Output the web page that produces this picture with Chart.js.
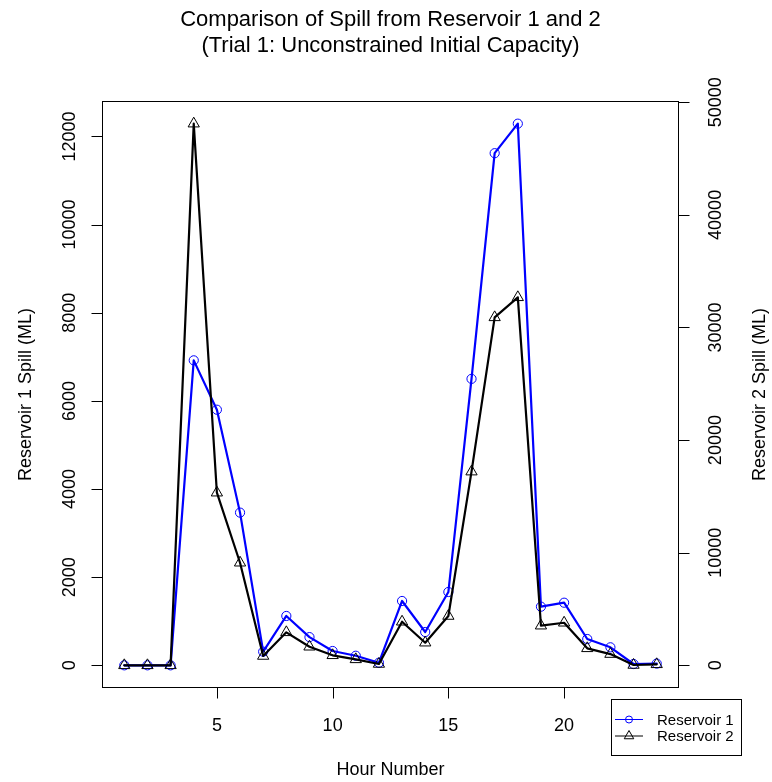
<!DOCTYPE html>
<html>
<head>
<meta charset="utf-8">
<script src="https://cdn.jsdelivr.net/npm/chart.js@4.4.0/dist/chart.umd.min.js"></script>
<style>
html,body{margin:0;padding:0;background:#fff;}
#wrap{width:772px;height:782px;}
</style>
</head>
<body>
<div id="wrap"><canvas id="c" width="772" height="782"></canvas></div>
<script>
const hours = [1,2,3,4,5,6,7,8,9,10,11,12,13,14,15,16,17,18,19,20,21,22,23,24];
const res1 = [0,0,0,6920,5800,3465,310,1120,640,325,218,59,1460,756,1664,6500,11620,12290,1331,1421,597,409,30,40];
const res2 = [0,0,0,48100,15330,9110,830,2930,1650,890,530,120,3870,2010,4380,17200,30900,32680,3520,3780,1510,1000,30,90];
const xTicks = [5,10,15,20];
const y1Ticks = [0,2000,4000,6000,8000,10000,12000];
const y2Ticks = [0,10000,20000,30000,40000,50000];
const titleLines = ['Comparison of Spill from Reservoir 1 and 2','(Trial 1: Unconstrained Initial Capacity)'];
const xLabel = 'Hour Number';
const y1Label = 'Reservoir 1 Spill (ML)';
const y2Label = 'Reservoir 2 Spill (ML)';
const seriesNames = ['Reservoir 1','Reservoir 2'];

const FONT = '"Liberation Sans", Arial, Helvetica, sans-serif';

function ext(arr){const lo=Math.min(...arr),hi=Math.max(...arr),d=(hi-lo)*0.04;return [lo-d,hi+d];}
const xr = ext(hours), r1 = ext(res1), r2 = ext(res2);

const rAxes = {
  id:'rAxes',
  afterDraw(chart){
    const ctx = chart.ctx, a = chart.chartArea;
    const sx = chart.scales.x, sy = chart.scales.y, sy2 = chart.scales.y2;
    ctx.save();
    ctx.strokeStyle = '#000'; ctx.fillStyle = '#000'; ctx.lineWidth = 1;
    // box
    ctx.strokeRect(Math.round(a.left)-0.5, Math.round(a.top)-0.5, Math.round(a.right-a.left)+1, Math.round(a.bottom-a.top)+1);
    const tl = 11;
    // x axis
    ctx.font = '18px ' + FONT;
    ctx.textAlign = 'center'; ctx.textBaseline = 'alphabetic';
    const yb = Math.round(a.bottom)+0.5;
    ctx.beginPath();
    ctx.moveTo(sx.getPixelForValue(xTicks[0]), yb); ctx.lineTo(sx.getPixelForValue(xTicks[xTicks.length-1]), yb);
    xTicks.forEach(t=>{const px=Math.round(sx.getPixelForValue(t))+0.5; ctx.moveTo(px,yb); ctx.lineTo(px,yb+tl);});
    ctx.stroke();
    xTicks.forEach(t=>{ctx.fillText(String(t), sx.getPixelForValue(t), a.bottom+44);});
    // left axis
    const xl = Math.round(a.left)-0.5;
    ctx.beginPath();
    ctx.moveTo(xl, sy.getPixelForValue(y1Ticks[0])); ctx.lineTo(xl, sy.getPixelForValue(y1Ticks[y1Ticks.length-1]));
    y1Ticks.forEach(t=>{const py=Math.round(sy.getPixelForValue(t))+0.5; ctx.moveTo(xl,py); ctx.lineTo(xl-tl,py);});
    ctx.stroke();
    y1Ticks.forEach(t=>{
      ctx.save(); ctx.translate(a.left-28, sy.getPixelForValue(t)); ctx.rotate(-Math.PI/2);
      ctx.fillText(String(t),0,0); ctx.restore();
    });
    // right axis
    const xr2 = Math.round(a.right)+0.5;
    ctx.beginPath();
    ctx.moveTo(xr2, sy2.getPixelForValue(y2Ticks[0])); ctx.lineTo(xr2, sy2.getPixelForValue(y2Ticks[y2Ticks.length-1]));
    y2Ticks.forEach(t=>{const py=Math.round(sy2.getPixelForValue(t))+0.5; ctx.moveTo(xr2,py); ctx.lineTo(xr2+tl,py);});
    ctx.stroke();
    y2Ticks.forEach(t=>{
      ctx.save(); ctx.translate(a.right+43, sy2.getPixelForValue(t)); ctx.rotate(-Math.PI/2);
      ctx.fillText(String(t),0,0); ctx.restore();
    });
    // axis labels
    const cx = (a.left+a.right)/2, cy = (a.top+a.bottom)/2;
    ctx.fillText(xLabel, cx, a.bottom+88);
    ctx.save(); ctx.translate(a.left-72, cy); ctx.rotate(-Math.PI/2); ctx.fillText(y1Label,0,0); ctx.restore();
    ctx.save(); ctx.translate(a.right+87, cy); ctx.rotate(-Math.PI/2); ctx.fillText(y2Label,0,0); ctx.restore();
    // title
    ctx.font = '22px ' + FONT;
    ctx.fillText(titleLines[0], cx, 26);
    ctx.fillText(titleLines[1], cx, 52);
    // legend
    const lx0 = 611, ly0 = 699, lw = 130, lh = 56;
    ctx.strokeRect(lx0+0.5, ly0+0.5, lw, lh);
    const rows = [719.5, 736];
    const cols = ['#0000FF','#000000'];
    ctx.font = '15px ' + FONT; ctx.textAlign = 'left'; ctx.textBaseline = 'middle';
    rows.forEach((ry,i)=>{
      ctx.strokeStyle = cols[i]; ctx.lineWidth = 1;
      ctx.beginPath(); ctx.moveTo(615, ry); ctx.lineTo(643, ry); ctx.stroke();
      ctx.beginPath();
      if(i===0){ ctx.arc(629, ry, 3.5, 0, Math.PI*2); }
      else { const r=5.5; for(let k=0;k<3;k++){const ang=k*2*Math.PI/3; const px=629+Math.sin(ang)*r, py=ry-Math.cos(ang)*r; if(k===0)ctx.moveTo(px,py); else ctx.lineTo(px,py);} ctx.closePath(); }
      ctx.stroke();
      ctx.fillStyle = '#000';
      ctx.fillText(seriesNames[i], 657, ry+1);
    });
    ctx.restore();
  }
};

new Chart(document.getElementById('c'), {
  type: 'line',
  data: {
    datasets: [
      {label: seriesNames[0], data: hours.map((h,i)=>({x:h,y:res1[i]})), yAxisID:'y',
       borderColor:'#0000FF', borderWidth:2.2, borderJoinStyle:'round', borderCapStyle:'round',
       pointStyle:'circle', pointRadius:4.6, pointBorderWidth:1, pointBorderColor:'#0000FF',
       pointBackgroundColor:'rgba(0,0,0,0)', tension:0, order:1},
      {label: seriesNames[1], data: hours.map((h,i)=>({x:h,y:res2[i]})), yAxisID:'y2',
       borderColor:'#000000', borderWidth:2.2, borderJoinStyle:'round', borderCapStyle:'round',
       pointStyle:'triangle', pointRadius:6.5, pointBorderWidth:1, pointBorderColor:'#000000',
       pointBackgroundColor:'rgba(0,0,0,0)', tension:0, order:0}
    ]
  },
  options: {
    responsive:false, animation:false, devicePixelRatio:1,
    layout:{padding:{left:103, right:94, top:102, bottom:95}},
    scales:{
      x:{type:'linear', min:xr[0], max:xr[1], display:false},
      y:{type:'linear', min:r1[0], max:r1[1], display:false},
      y2:{type:'linear', position:'right', min:r2[0], max:r2[1], display:false}
    },
    plugins:{legend:{display:false}, tooltip:{enabled:false}, title:{display:false}},
    events:[]
  },
  plugins:[rAxes]
});
</script>
</body>
</html>
